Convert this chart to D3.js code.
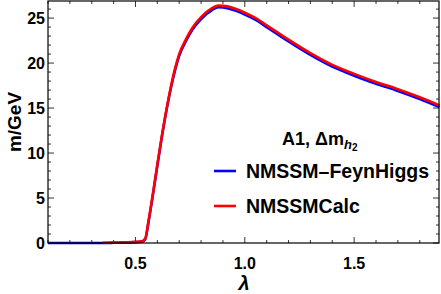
<!DOCTYPE html>
<html>
<head>
<meta charset="utf-8">
<script src="https://cdn.jsdelivr.net/npm/d3@7"></script>
<style>
  body { margin: 0; background: #fff; }
  text { font-family: "Liberation Sans", Arial, sans-serif; font-weight: bold; }
</style>
</head>
<body>
<svg id="chart" width="441" height="294"></svg>
<script>
// lambda grid and masses
var lamBlue = [0.1, 0.2, 0.3, 0.35, 0.4, 0.45, 0.5, 0.53, 0.545, 0.56, 0.58, 0.6, 0.62, 0.65, 0.68, 0.7, 0.73, 0.76, 0.8, 0.85, 0.88, 0.92, 0.96, 1.0, 1.05, 1.1, 1.2, 1.3, 1.4, 1.5, 1.6, 1.7, 1.8, 1.89];
var mFeynHiggs = [0, 0, 0, 0, 0.02, 0.05, 0.1, 0.15, 0.45, 2.4, 5.4, 8.6, 11.7, 15.8, 19.1, 20.8, 22.4, 23.7, 24.9, 25.9, 26.2, 26.1, 25.8, 25.4, 24.8, 24.0, 22.4, 20.9, 19.6, 18.6, 17.7, 16.9, 16.0, 15.1];

var lamRed = [0.35, 0.4, 0.45, 0.5, 0.53, 0.545, 0.56, 0.58, 0.6, 0.62, 0.65, 0.68, 0.7, 0.73, 0.76, 0.8, 0.85, 0.88, 0.92, 0.96, 1.0, 1.05, 1.1, 1.2, 1.3, 1.4, 1.5, 1.6, 1.7, 1.8, 1.89];
var mCalc = [0.02, 0.05, 0.08, 0.12, 0.18, 0.5, 2.5, 5.5, 8.7, 11.8, 15.9, 19.3, 21.0, 22.6, 23.9, 25.1, 26.1, 26.4, 26.3, 26.0, 25.6, 25.0, 24.2, 22.6, 21.1, 19.8, 18.8, 17.9, 17.1, 16.2, 15.3];

var xMajor = [0.5, 1.0, 1.5];
var yMajor = [0, 5, 10, 15, 20, 25];
var seriesNames = ["NMSSM\u2013FeynHiggs", "NMSSMCalc"];
var seriesColors = ["#0000ff", "#ff0000"];

var svg = d3.select("#chart");
var pLeft = 48, pRight = 439, pTop = 1, pBottom = 243;

var x = d3.scaleLinear().domain([0.1, 1.888]).range([pLeft, pRight]);
var y = d3.scaleLinear().domain([0, 26.9]).range([pBottom, pTop]);

var xMinor = d3.range(0.1, 1.9, 0.1).map(function(d) { return +d.toFixed(2); });
var yMinor = d3.range(0, 27, 1);

// frame ticks (pointing inwards, on all four sides)
var g = svg.append("g").attr("stroke", "#000");
xMinor.forEach(function(v) {
    var len = xMajor.indexOf(v) >= 0 ? 6 : 3;
    g.append("line").attr("x1", x(v)).attr("x2", x(v)).attr("y1", pBottom).attr("y2", pBottom - len).attr("stroke-width", 0.8);
    g.append("line").attr("x1", x(v)).attr("x2", x(v)).attr("y1", pTop).attr("y2", pTop + len).attr("stroke-width", 0.8);
});
yMinor.forEach(function(v) {
    var len = yMajor.indexOf(v) >= 0 ? 6 : 3;
    g.append("line").attr("y1", y(v)).attr("y2", y(v)).attr("x1", pLeft).attr("x2", pLeft + len).attr("stroke-width", 0.8);
    g.append("line").attr("y1", y(v)).attr("y2", y(v)).attr("x1", pRight).attr("x2", pRight - len).attr("stroke-width", 0.8);
});

// tick labels
svg.append("g").selectAll("text").data(xMajor).enter().append("text")
    .attr("x", function(d) { return x(d); })
    .attr("y", 269)
    .attr("text-anchor", "middle")
    .attr("font-size", 16)
    .text(function(d) { return d.toFixed(1); });

svg.append("g").selectAll("text").data(yMajor).enter().append("text")
    .attr("x", 45)
    .attr("y", function(d) { return y(d) + 6; })
    .attr("text-anchor", "end")
    .attr("font-size", 16)
    .text(function(d) { return d; });

// axis titles
svg.append("text").attr("x", 244).attr("y", 290).attr("text-anchor", "middle")
    .attr("font-size", 20).attr("font-style", "italic").text("\u03bb");
svg.append("text").attr("transform", "translate(21,122) rotate(-90)").attr("text-anchor", "middle")
    .attr("font-size", 19).text("m/GeV");

// curves
var line = d3.line().curve(d3.curveMonotoneX)
    .x(function(d) { return x(d[0]); })
    .y(function(d) { return y(d[1]); });

var plot = svg.append("g");
plot.append("path").datum(d3.zip(lamBlue, mFeynHiggs))
    .attr("d", line).attr("fill", "none").attr("stroke", seriesColors[0]).attr("stroke-width", 2.6);
plot.append("path").datum(d3.zip(lamRed, mCalc))
    .attr("d", line).attr("fill", "none").attr("stroke", seriesColors[1]).attr("stroke-width", 2.6);

// frame
svg.append("rect").attr("x", pLeft).attr("y", pTop).attr("width", pRight - pLeft).attr("height", pBottom - pTop)
    .attr("fill", "none").attr("stroke", "#000").attr("stroke-width", 1.2);

// legend
var legTitle = svg.append("text").attr("x", 282).attr("y", 145).attr("font-size", 18);
legTitle.append("tspan").text("A1, \u0394m");
legTitle.append("tspan").attr("font-size", 13).attr("font-style", "italic").attr("dy", 4).text("h");
legTitle.append("tspan").attr("font-size", 10).attr("dy", 2).text("2");

var leg = svg.append("g").selectAll("g").data(seriesNames).enter().append("g")
    .attr("transform", function(d, i) { return "translate(214," + (171 + i * 35) + ")"; });
leg.append("line").attr("x1", 0).attr("x2", 22).attr("y1", 0).attr("y2", 0)
    .attr("stroke", function(d, i) { return seriesColors[i]; }).attr("stroke-width", 2.6);
leg.append("text").attr("x", 32).attr("y", 7).attr("font-size", 19.5).text(function(d) { return d; });
</script>
</body>
</html>
